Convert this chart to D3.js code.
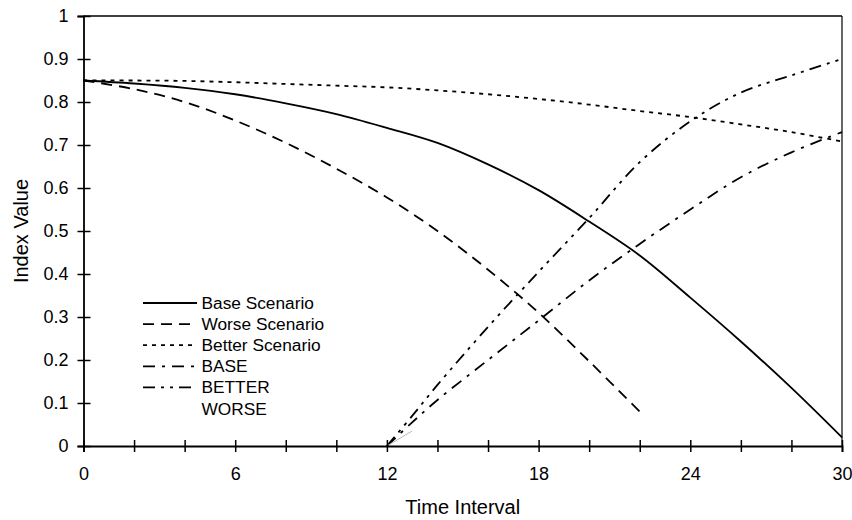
<!DOCTYPE html>
<html>
<head>
<meta charset="utf-8">
<script src="https://cdn.jsdelivr.net/npm/d3@7"></script>
<style>
  body { margin: 0; background: #fff; }
  svg { font-family: "Liberation Sans", Arial, sans-serif; }
</style>
</head>
<body>
<svg id="chart"></svg>
<script>
// values
const steps = [0, 2, 4, 6, 8, 10, 12, 14, 16, 18, 20, 22, 24, 26, 28, 30]
const baseScenario = [0.85, 0.843, 0.833, 0.818, 0.797, 0.772, 0.74, 0.705, 0.655, 0.595, 0.522, 0.443, 0.345, 0.243, 0.135, 0.02]
const worseScenario = [0.85, 0.83, 0.80, 0.757, 0.705, 0.645, 0.578, 0.50, 0.41, 0.31, 0.197, 0.08]
const betterScenario = [0.85, 0.85, 0.849, 0.846, 0.842, 0.838, 0.834, 0.827, 0.818, 0.807, 0.794, 0.779, 0.765, 0.748, 0.73, 0.708]

const lateSteps = [12, 13, 14, 16, 18, 20, 22, 24, 26, 28, 30]
const BASE = [0, 0.055, 0.107, 0.20, 0.292, 0.385, 0.47, 0.55, 0.625, 0.683, 0.73]
const BETTER = [0, 0.07, 0.142, 0.277, 0.405, 0.53, 0.66, 0.755, 0.822, 0.862, 0.90]
const WORSE = [0, 0.035]

const xTicks = [0, 6, 12, 18, 24, 30]
const yTicks = [0, 0.1, 0.2, 0.3, 0.4, 0.5, 0.6, 0.7, 0.8, 0.9, 1]

const series = [
  { name: 'Base Scenario', xs: steps, ys: baseScenario, dash: null, color: '#000' },
  { name: 'Worse Scenario', xs: steps, ys: worseScenario, dash: '11,7', color: '#000' },
  { name: 'Better Scenario', xs: steps, ys: betterScenario, dash: '4,5', color: '#000' },
  { name: 'BASE', xs: lateSteps, ys: BASE, dash: '12,7,3,7', color: '#000' },
  { name: 'BETTER', xs: lateSteps, ys: BETTER, dash: '12,6,3,6,3,6', color: '#000' },
  { name: 'WORSE', xs: lateSteps, ys: WORSE, dash: null, color: '#bbb', noKey: true }
]

let w = 852, h = 520
let mLeft = 83.5, mRight = 842, mTop = 16, mBottom = 446

let svg = d3.select('#chart')
  .attr('width', w)
  .attr('height', h)

let scX = d3.scaleLinear().domain([0, 30]).range([mLeft, mRight])
let scY = d3.scaleLinear().domain([0, 1]).range([mBottom, mTop])

// frame top & right
svg.append('line')
  .attr('x1', mLeft).attr('x2', mRight).attr('y1', mTop).attr('y2', mTop)
  .attr('stroke', '#000').attr('stroke-width', 1.5)
svg.append('line')
  .attr('x1', mRight).attr('x2', mRight).attr('y1', mTop).attr('y2', mBottom)
  .attr('stroke', '#000').attr('stroke-width', 1.2)

let line = d3.line()
  .x(d => scX(d[0]))
  .y(d => scY(d[1]))
  .curve(d3.curveCatmullRom)

svg.append('g')
  .selectAll('path')
  .data(series).enter().append('path')
  .attr('d', s => line(s.ys.map((v, i) => [s.xs[i], v])))
  .attr('fill', 'none')
  .attr('stroke', s => s.color)
  .attr('stroke-width', s => s.noKey ? 1 : 1.8)
  .attr('stroke-dasharray', s => s.dash)

// x axis
let xAx = d3.axisBottom(scX)
  .tickValues(d3.range(0, 31, 2))
  .tickSize(6)
  .tickFormat(d => xTicks.includes(d) ? d : '')

let gx = svg.append('g')
  .attr('transform', `translate(0, ${mBottom})`)
  .call(xAx)
gx.select('.domain').attr('stroke-width', 1.8)
gx.selectAll('.tick line').attr('y1', -6).attr('stroke-width', 1.5)
gx.selectAll('.tick text')
  .attr('y', 21)
  .attr('font-size', 18)
  .attr('fill', '#000')

// y axis
let yAx = d3.axisLeft(scY)
  .tickValues(yTicks)
  .tickSize(6)
  .tickFormat(d => String(+d.toFixed(1)))

let gy = svg.append('g')
  .attr('transform', `translate(${mLeft}, 0)`)
  .call(yAx)
gy.select('.domain').attr('stroke-width', 1.8)
gy.selectAll('.tick line').attr('x2', 7).attr('x1', -6).attr('stroke-width', 1.5)
gy.selectAll('.tick text')
  .attr('x', -15)
  .attr('font-size', 18)
  .attr('fill', '#000')

// axis titles
svg.append('text')
  .attr('x', (mLeft + mRight) / 2)
  .attr('y', 514)
  .attr('text-anchor', 'middle')
  .attr('font-size', 20)
  .text('Time Interval')

svg.append('text')
  .attr('transform', `translate(28, ${(mTop + mBottom) / 2}) rotate(-90)`)
  .attr('text-anchor', 'middle')
  .attr('font-size', 20)
  .text('Index Value')

// legend
let key = svg.append('g')
  .selectAll('g')
  .data(series).enter().append('g')
  .attr('transform', (d, i) => `translate(143, ${303 + i * 21.1})`)

key.filter(d => !d.noKey).append('line')
  .attr('x1', 0).attr('x2', 54)
  .attr('stroke', '#000')
  .attr('stroke-width', 1.8)
  .attr('stroke-dasharray', d => d.dash)

key.append('text')
  .attr('x', 58.5)
  .attr('dy', '0.35em')
  .attr('font-size', 17.3)
  .text(d => d.name)
</script>
</body>
</html>
